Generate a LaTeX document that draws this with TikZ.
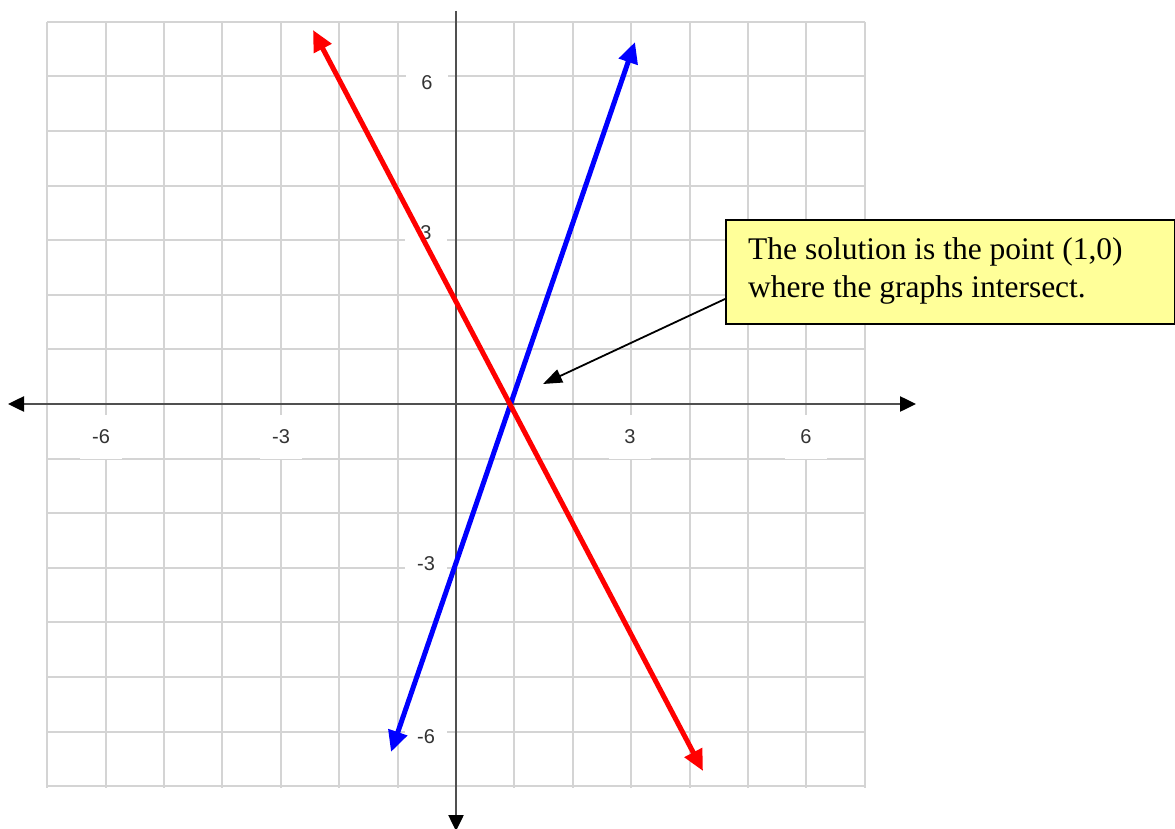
\documentclass[tikz,border=0pt]{standalone}
\usepackage{fontspec}
\setmainfont{Liberation Serif}
\newfontfamily\ticksfont{Liberation Sans}
\usetikzlibrary{arrows.meta}
\definecolor{gridgray}{HTML}{D4D4D4}
\definecolor{axisgray}{HTML}{505050}
\definecolor{ticktext}{HTML}{333333}
\definecolor{noteyellow}{HTML}{FFFF99}
\definecolor{lnred}{HTML}{FF0000}
\definecolor{lnblue}{HTML}{0000FF}
\tikzset{
  gridline/.style={draw=gridgray, line width=2pt},
  axisline/.style={draw=axisgray, line width=2.5pt},
  ticklabel/.style={fill=white, inner sep=0pt, minimum width=42pt, minimum height=44pt,
    text=ticktext, font=\ticksfont\fontsize{20pt}{22pt}\selectfont},
  graphline/.style={line width=5pt, {Triangle[length=21pt,width=19pt]}-{Triangle[length=21pt,width=19pt]}},
  notebox/.style={draw=black, line width=2pt, fill=noteyellow, minimum width=449pt,
    minimum height=104pt, inner sep=0pt},
  notetext/.style={inner sep=0pt, font=\fontsize{31.5pt}{38pt}\selectfont},
  notearrow/.style={draw=black, line width=1.8pt, -{Triangle[length=19pt,width=14pt]}}
}
\begin{document}
\begin{tikzpicture}[x=1pt,y=-1pt]
\useasboundingbox (0,0) rectangle (1175,829);
\fill[white] (0,0) rectangle (1175,829);
% grid
\foreach \i in {-7,...,7} {
  \draw[gridline] ({456+58.4*\i},22) -- ({456+58.4*\i},788);
}
\foreach \j in {-7,...,7} {
  \draw[gridline] (47,{404+54.6*\j}) -- (865,{404+54.6*\j});
}
% axes
\coordinate (xl) at (8,404);
\coordinate (xr) at (916,404);
\coordinate (yt) at (456,11);
\coordinate (yb) at (456,831);
\draw[axisline, {Triangle[length=16pt,width=15pt,color=black]}-{Triangle[length=16pt,width=15pt,color=black]}] (xl) -- (xr);
\draw[axisline, -{Triangle[length=16pt,width=15pt,color=black]}] (yt) -- (yb);
% tick labels
\node[ticklabel] (xm6) at (101,437) {-6};
\node[ticklabel] (xm3) at (281,437) {-3};
\node[ticklabel] (xp3) at (630,437) {3};
\node[ticklabel] (xp6) at (806,437) {6};
\node[ticklabel, minimum height=34pt] (yp6) at (427,83) {6};
\node[ticklabel, minimum height=34pt] (yp3) at (426,233) {3};
\node[ticklabel, minimum height=34pt] (ym3) at (426,564) {-3};
\node[ticklabel, minimum height=34pt] (ym6) at (426,737) {-6};
% graphs
\coordinate (r1) at (313,30);
\coordinate (r2) at (703,771);
\coordinate (b1) at (391,752);
\coordinate (b2) at (635,42);
\draw[graphline, lnblue] (b1) -- (b2);
\draw[graphline, lnred] (r1) -- (r2);
% callout
\node[notebox, anchor=north west] (box) at (725,219) {};
\node[notetext, anchor=base west] (line1) at (748,259) {The solution is the point (1,0)};
\node[notetext, anchor=base west] (line2) at (748,297) {where the graphs intersect.};
\coordinate (tip) at (543,384);
\draw[notearrow] ([yshift=-27pt]box.west) -- (tip);
\end{tikzpicture}
\end{document}
